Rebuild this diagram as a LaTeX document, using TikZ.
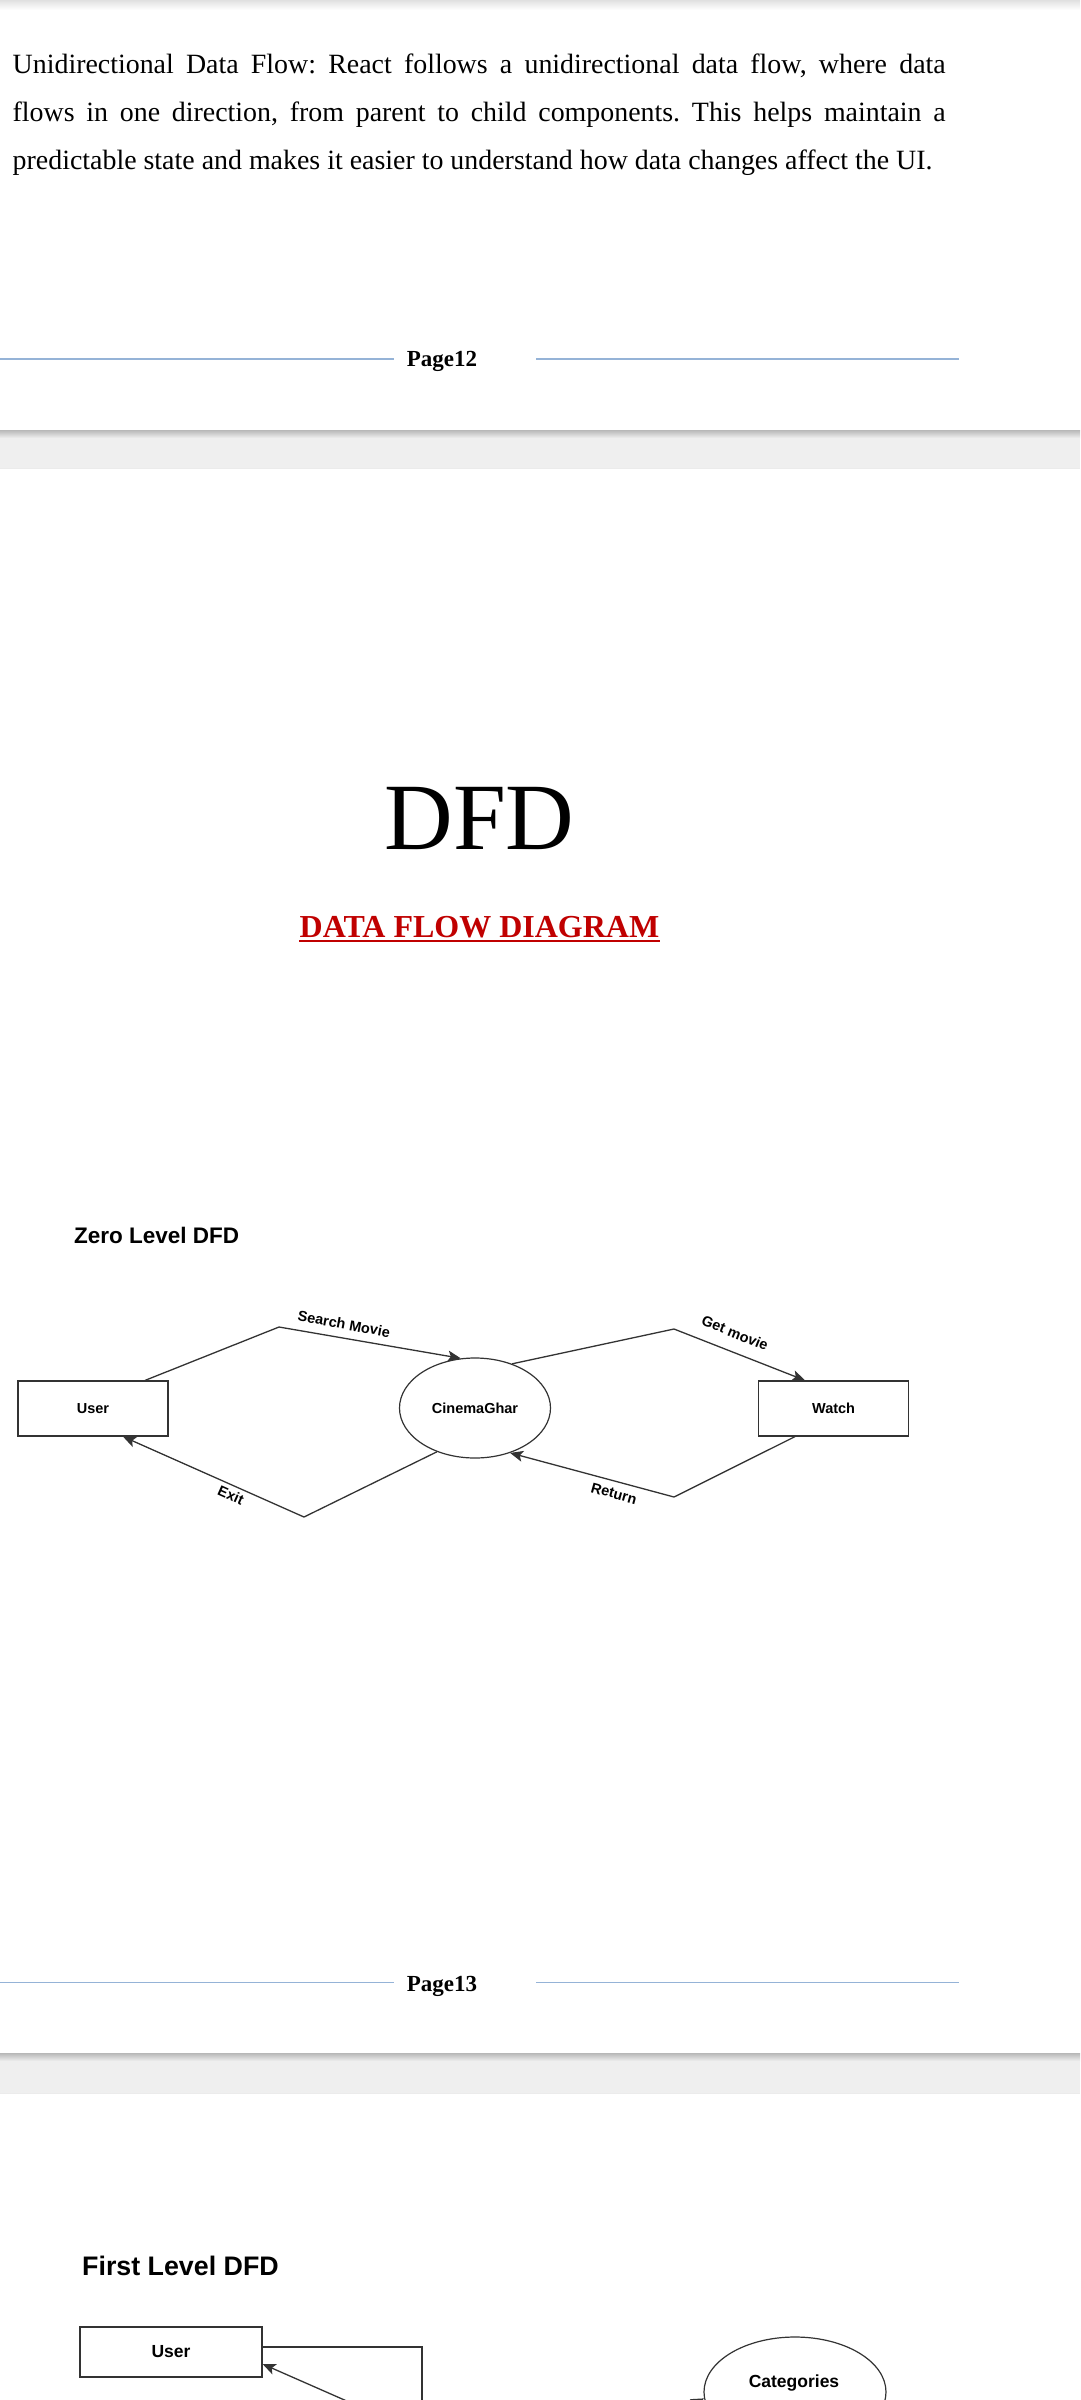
\documentclass[tikz,border=0pt]{standalone}
\usepackage{fontspec}
\setmainfont{Liberation Serif}
\setsansfont{Liberation Sans}
\usetikzlibrary{arrows.meta,shapes.geometric}
\frenchspacing

\definecolor{bandgray}{HTML}{EFEFEF}
\definecolor{footblue}{HTML}{95B3D7}
\definecolor{titlered}{HTML}{C00000}
\definecolor{ink}{HTML}{333333}

\tikzset{
  bodytext/.style={anchor=base west, inner sep=0pt, font=\fontsize{27.9}{33}\selectfont},
  footer/.style={anchor=base, inner sep=0pt, font=\bfseries\fontsize{23}{26}\selectfont},
  footline/.style={draw=footblue, line width=1.3pt},
  heading/.style={anchor=base west, inner sep=0pt, font=\sffamily\bfseries\fontsize{22.5}{26}\selectfont},
  entity/.style={draw=ink, line width=1.2pt, inner sep=0pt, minimum width=150pt, minimum height=55pt, font=\sffamily\bfseries\fontsize{14.5}{17}\selectfont},
  process/.style={ellipse, draw=ink, line width=1.2pt, inner sep=0pt, minimum width=151pt, minimum height=100pt, font=\sffamily\bfseries\fontsize{14.5}{17}\selectfont},
  flow/.style={draw=ink, line width=1.3pt, -{Stealth[length=13pt,width=11pt,inset=3pt]}},
  flowlabel/.style={inner sep=0pt, font=\sffamily\bfseries\fontsize{14.5}{17}\selectfont},
}

\begin{document}
\begin{tikzpicture}[x=1pt,y=-1pt]

\useasboundingbox (0,0) rectangle (1080,2400);
\clip (0,0) rectangle (1080,2400);
\fill[white] (0,0) rectangle (1080,2400);

\shade[top color=black!12, bottom color=white] (0,0) rectangle (1080,10);
\fill[bandgray] (0,430) rectangle (1080,468);
\shade[top color=black!28, bottom color=bandgray] (0,430) rectangle (1080,438);
\draw[black!8] (0,468) -- (1080,468);
\fill[bandgray] (0,2053) rectangle (1080,2093);
\shade[top color=black!28, bottom color=bandgray] (0,2053) rectangle (1080,2061);
\draw[black!8] (0,2093) -- (1080,2093);


\node[bodytext] (line1) at (12.5,73.3) {\makebox[933pt][s]{Unidirectional Data Flow: React follows a unidirectional data flow, where data}};
\node[bodytext] (line2) at (12.5,121.7) {\makebox[933pt][s]{flows in one direction, from parent to child components. This helps maintain a}};
\node[bodytext] (line3) at (12.5,170) {predictable state and makes it easier to understand how data changes affect the UI.};

\node[footer] (pg12) at (442,366.7) {Page12};
\draw[footline] (0,359) -- (394,359);
\draw[footline] (536,359) -- (959,359);


\node[anchor=base, inner sep=0pt, font=\fontsize{95}{100}\selectfont] (dfd) at (479.5,849) {DFD};
\node[anchor=base, inner sep=0pt, text=titlered, font=\bfseries\fontsize{32}{36}\selectfont] (dfdsub) at (479.5,937) {DATA FLOW DIAGRAM};
\draw[titlered, line width=2.4pt] ([yshift=-4pt]dfdsub.base west) -- ([yshift=-4pt]dfdsub.base east);


\node[heading] (zero) at (74,1243) {Zero Level DFD};

\node[entity] (user0) at (93,1408.5) {User};
\node[process] (cg0) at (475,1408) {CinemaGhar};
\node[entity] (watch0) at (833.6,1408.5) {Watch};

\coordinate (smv) at (279,1327);
\coordinate (gmv) at (674,1329);
\coordinate (rtv) at (674,1497);
\coordinate (exv) at (304,1517);

\draw[flow] ([xshift=52pt]user0.north) -- (smv) -- (cg0.106);
\draw[flow] (cg0.50) -- (gmv) -- ([xshift=-28.6pt]watch0.north);
\draw[flow] ([xshift=-38.6pt]watch0.south) -- (rtv) -- (cg0.-52);
\draw[flow] (cg0.-131) -- (exv) -- ([xshift=30pt]user0.south);

\node[flowlabel, rotate=-10.6] (smlbl) at (344,1324) {Search Movie};
\node[flowlabel, rotate=-22] (gmlbl) at (735,1333) {Get movie};
\node[flowlabel, rotate=-15.4] (rtlbl) at (614,1493.5) {Return};
\node[flowlabel, rotate=-24] (exlbl) at (231,1495) {Exit};

\node[footer] (pg13) at (442,1991.5) {Page13};
\draw[footline] (0,1982.7) -- (394,1982.7);
\draw[footline] (536,1982.7) -- (959,1982.7);


\node[heading, font=\sffamily\bfseries\fontsize{26.8}{30}\selectfont] (first) at (82,2275) {First Level DFD};

\node[entity, minimum width=182pt, minimum height=50pt, font=\sffamily\bfseries\fontsize{17.5}{20}\selectfont] (user1) at (171,2352) {User};
\node[process, minimum width=182pt, minimum height=110pt] (cat1) at (795,2392) {};
\node[flowlabel, font=\sffamily\bfseries\fontsize{17.5}{20}\selectfont] (catlbl) at (794,2383) {Categories};

\coordinate (ulow) at (422,2430);
\coordinate (ret1) at (390,2420);
\coordinate (catin) at (640,2430);

\draw[ink, line width=1.2pt] ([yshift=5pt]user1.east) -| (ulow);
\draw[flow] (ret1) -- ([yshift=-12pt]user1.east);
\draw[flow] (catin) -- (cat1.184);

\end{tikzpicture}
\end{document}
